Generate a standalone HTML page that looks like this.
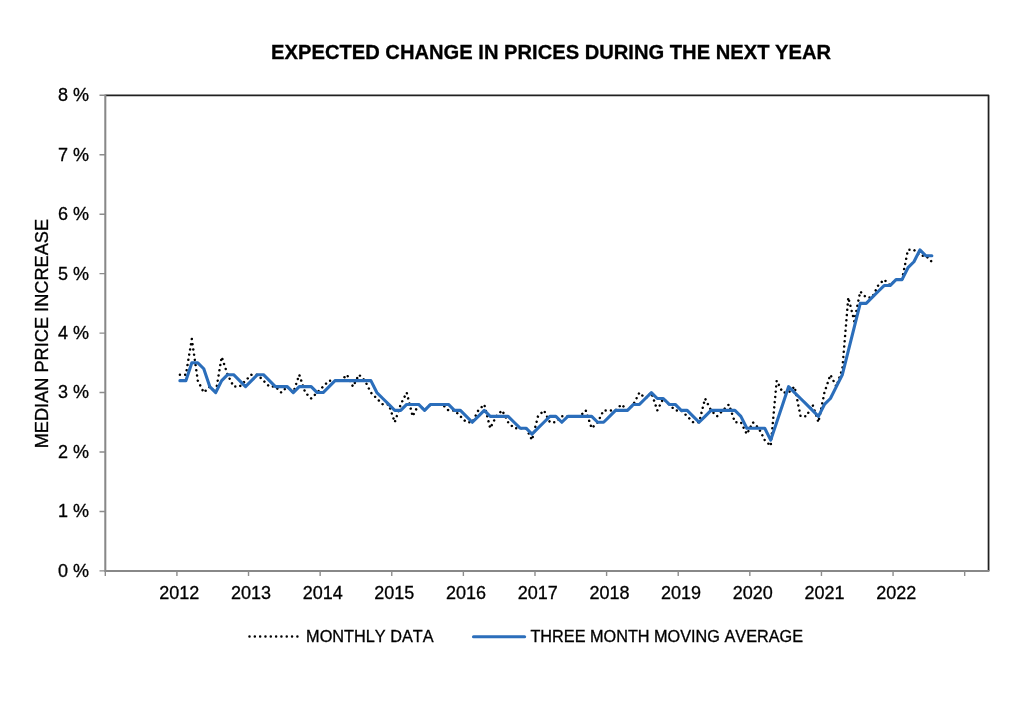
<!DOCTYPE html>
<html lang="en"><head><meta charset="utf-8"><title>Expected change in prices during the next year</title>
<style>html,body{margin:0;padding:0;background:#fff}body{width:1024px;height:709px;overflow:hidden}svg{display:block}text{font-family:"Liberation Sans",Arial,Helvetica,sans-serif;fill:#000;font-kerning:none;stroke:#000;stroke-width:.3px}</style></head><body>
<svg width="1024" height="709" viewBox="0 0 1024 709">
<rect width="1024" height="709" fill="#fff"/>
<text x="551.1" y="58.5" text-anchor="middle" font-size="20.16" font-weight="bold" stroke="none">EXPECTED CHANGE IN PRICES DURING THE NEXT YEAR</text>
<path d="M105.30 95.30 H988.55 V570.90" fill="none" stroke="#202020" stroke-width="1.75" stroke-linejoin="round"/>
<path d="M105.30 94.40 V570.90 H989.40" fill="none" stroke="#888" stroke-width="2.05"/>
<path d="M99.50 570.90 H105.30 M99.50 511.45 H105.30 M99.50 452.00 H105.30 M99.50 392.55 H105.30 M99.50 333.10 H105.30 M99.50 273.65 H105.30 M99.50 214.20 H105.30 M99.50 154.75 H105.30 M99.50 95.30 H105.30 M105.30 570.90 V576.00 M176.91 570.90 V576.00 M248.53 570.90 V576.00 M320.14 570.90 V576.00 M391.76 570.90 V576.00 M463.37 570.90 V576.00 M534.99 570.90 V576.00 M606.60 570.90 V576.00 M678.22 570.90 V576.00 M749.83 570.90 V576.00 M821.45 570.90 V576.00 M893.06 570.90 V576.00 M964.68 570.90 V576.00" fill="none" stroke="#8c8c8c" stroke-width="1.4"/>
<text x="89.0" y="576.80" text-anchor="end" font-size="18">0 %</text>
<text x="89.0" y="517.35" text-anchor="end" font-size="18">1 %</text>
<text x="89.0" y="457.90" text-anchor="end" font-size="18">2 %</text>
<text x="89.0" y="398.45" text-anchor="end" font-size="18">3 %</text>
<text x="89.0" y="339.00" text-anchor="end" font-size="18">4 %</text>
<text x="89.0" y="279.55" text-anchor="end" font-size="18">5 %</text>
<text x="89.0" y="220.10" text-anchor="end" font-size="18">6 %</text>
<text x="89.0" y="160.65" text-anchor="end" font-size="18">7 %</text>
<text x="89.0" y="101.20" text-anchor="end" font-size="18">8 %</text>
<text x="179.30" y="599" text-anchor="middle" font-size="18">2012</text>
<text x="250.98" y="599" text-anchor="middle" font-size="18">2013</text>
<text x="322.67" y="599" text-anchor="middle" font-size="18">2014</text>
<text x="394.35" y="599" text-anchor="middle" font-size="18">2015</text>
<text x="466.04" y="599" text-anchor="middle" font-size="18">2016</text>
<text x="537.72" y="599" text-anchor="middle" font-size="18">2017</text>
<text x="609.41" y="599" text-anchor="middle" font-size="18">2018</text>
<text x="681.09" y="599" text-anchor="middle" font-size="18">2019</text>
<text x="752.78" y="599" text-anchor="middle" font-size="18">2020</text>
<text x="824.46" y="599" text-anchor="middle" font-size="18">2021</text>
<text x="896.15" y="599" text-anchor="middle" font-size="18">2022</text>
<text transform="translate(48.4 333.6) rotate(-90)" text-anchor="middle" font-size="18.2">MEDIAN PRICE INCREASE</text>
<path d="M179.90 374.72 L185.87 374.72 L191.83 339.04 L197.80 380.66 L203.77 392.55 L209.74 386.61 L215.71 392.55 L221.67 356.88 L227.64 374.72 L233.61 386.61 L239.58 386.61 L245.55 380.66 L251.51 374.72 L257.48 374.72 L263.45 380.66 L269.42 386.61 L275.39 386.61 L281.35 392.55 L287.32 386.61 L293.29 392.55 L299.26 374.72 L305.22 392.55 L311.19 398.50 L317.16 392.55 L323.13 386.61 L329.10 380.66 L335.06 380.66 L341.03 380.66 L347.00 374.72 L352.97 386.61 L358.94 374.72 L364.90 380.66 L370.87 392.55 L376.84 398.50 L382.81 404.44 L388.78 404.44 L394.74 422.27 L400.71 404.44 L406.68 392.55 L412.65 416.33 L418.62 404.44 L424.58 410.38 L430.55 404.44 L436.52 404.44 L442.49 404.44 L448.45 410.38 L454.42 410.38 L460.39 416.33 L466.36 422.27 L472.33 422.27 L478.29 410.38 L484.26 404.44 L490.23 428.22 L496.20 416.33 L502.17 410.38 L508.13 422.27 L514.10 428.22 L520.07 428.22 L526.04 428.22 L532.01 440.11 L537.97 416.33 L543.94 410.38 L549.91 422.27 L555.88 422.27 L561.84 416.33 L567.81 416.33 L573.78 416.33 L579.75 416.33 L585.72 410.38 L591.68 428.22 L597.65 422.27 L603.62 410.38 L609.59 410.38 L615.56 410.38 L621.52 404.44 L627.49 410.38 L633.46 404.44 L639.43 392.55 L645.40 398.50 L651.36 392.55 L657.33 410.38 L663.30 398.50 L669.27 404.44 L675.23 410.38 L681.20 410.38 L687.17 416.33 L693.14 422.27 L699.11 422.27 L705.07 398.50 L711.04 410.38 L717.01 416.33 L722.98 410.38 L728.95 404.44 L734.91 422.27 L740.88 422.27 L746.85 434.16 L752.82 422.27 L758.79 428.22 L764.75 440.11 L770.72 446.05 L776.69 380.66 L782.66 392.55 L788.63 392.55 L794.59 386.61 L800.56 416.33 L806.53 416.33 L812.50 404.44 L818.46 422.27 L824.43 392.55 L830.40 374.72 L836.37 386.61 L842.34 368.77 L848.30 297.43 L854.27 321.21 L860.24 291.49 L866.21 297.43 L872.18 297.43 L878.14 285.54 L884.11 279.59 L890.08 285.54 L896.05 279.59 L902.02 279.59 L907.98 249.87 L913.95 249.87 L919.92 255.81 L925.89 255.81 L931.85 261.76" fill="none" stroke="#000" stroke-width="2.5" stroke-linecap="round" stroke-linejoin="round" stroke-dasharray="0.002 5.264"/>
<path d="M179.90 380.66 L185.87 380.66 L191.83 362.82 L197.80 362.82 L203.77 368.77 L209.74 386.61 L215.71 392.55 L221.67 380.66 L227.64 374.72 L233.61 374.72 L239.58 380.66 L245.55 386.61 L251.51 380.66 L257.48 374.72 L263.45 374.72 L269.42 380.66 L275.39 386.61 L281.35 386.61 L287.32 386.61 L293.29 392.55 L299.26 386.61 L305.22 386.61 L311.19 386.61 L317.16 392.55 L323.13 392.55 L329.10 386.61 L335.06 380.66 L341.03 380.66 L347.00 380.66 L352.97 380.66 L358.94 380.66 L364.90 380.66 L370.87 380.66 L376.84 392.55 L382.81 398.50 L388.78 404.44 L394.74 410.38 L400.71 410.38 L406.68 404.44 L412.65 404.44 L418.62 404.44 L424.58 410.38 L430.55 404.44 L436.52 404.44 L442.49 404.44 L448.45 404.44 L454.42 410.38 L460.39 410.38 L466.36 416.33 L472.33 422.27 L478.29 416.33 L484.26 410.38 L490.23 416.33 L496.20 416.33 L502.17 416.33 L508.13 416.33 L514.10 422.27 L520.07 428.22 L526.04 428.22 L532.01 434.16 L537.97 428.22 L543.94 422.27 L549.91 416.33 L555.88 416.33 L561.84 422.27 L567.81 416.33 L573.78 416.33 L579.75 416.33 L585.72 416.33 L591.68 416.33 L597.65 422.27 L603.62 422.27 L609.59 416.33 L615.56 410.38 L621.52 410.38 L627.49 410.38 L633.46 404.44 L639.43 404.44 L645.40 398.50 L651.36 392.55 L657.33 398.50 L663.30 398.50 L669.27 404.44 L675.23 404.44 L681.20 410.38 L687.17 410.38 L693.14 416.33 L699.11 422.27 L705.07 416.33 L711.04 410.38 L717.01 410.38 L722.98 410.38 L728.95 410.38 L734.91 410.38 L740.88 416.33 L746.85 428.22 L752.82 428.22 L758.79 428.22 L764.75 428.22 L770.72 440.11 L776.69 422.27 L782.66 404.44 L788.63 386.61 L794.59 392.55 L800.56 398.50 L806.53 404.44 L812.50 410.38 L818.46 416.33 L824.43 404.44 L830.40 398.50 L836.37 386.61 L842.34 374.72 L848.30 350.93 L854.27 327.16 L860.24 303.38 L866.21 303.38 L872.18 297.43 L878.14 291.49 L884.11 285.54 L890.08 285.54 L896.05 279.59 L902.02 279.59 L907.98 267.71 L913.95 261.76 L919.92 249.87 L925.89 255.81 L931.85 255.81" fill="none" stroke="#2b6ebb" stroke-width="3.1" stroke-linecap="round" stroke-linejoin="round"/>
<path d="M249.5 636.6 H298" fill="none" stroke="#000" stroke-width="2.5" stroke-linecap="round" stroke-dasharray="0.002 5.318"/>
<text x="306.1" y="642.2" font-size="16.3">MONTHLY DATA</text>
<path d="M473.5 636.7 H524.6" fill="none" stroke="#2b6ebb" stroke-width="3.1" stroke-linecap="round"/>
<text x="530.4" y="642.2" font-size="16.25">THREE MONTH MOVING AVERAGE</text>
</svg></body></html>
